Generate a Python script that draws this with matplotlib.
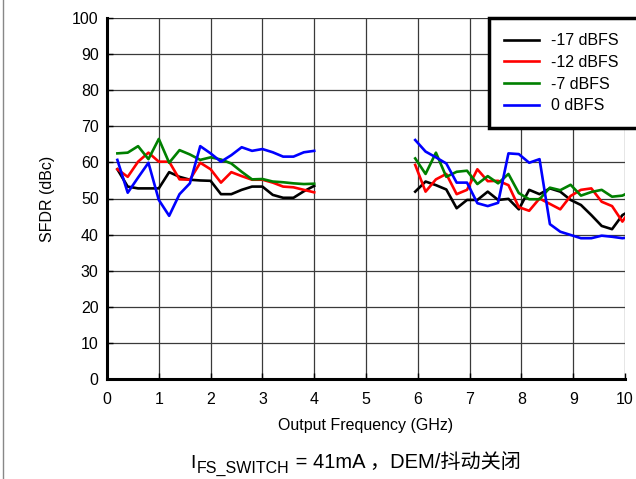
import numpy as np
import matplotlib.pyplot as plt
from matplotlib.lines import Line2D

plt.rcParams['font.family'] = ['Liberation Sans', 'Noto Sans CJK SC', 'DejaVu Sans']

# low band: 0.2 .. 4.0 GHz, high band: 5.95 .. 10.15 GHz
freq_lo = np.round(np.arange(0.2, 4.01, 0.2), 2)
freq_hi = np.round(5.95 + 0.2 * np.arange(22), 2)

m17_lo = [58.1, 53.3, 52.8, 52.8, 52.8, 57.3, 56.0, 55.2, 55.0, 54.9,
          51.2, 51.2, 52.4, 53.3, 53.3, 51.0, 50.2, 50.2, 52.0, 53.5]
m12_lo = [58.1, 56.0, 60.2, 62.7, 60.2, 60.2, 55.3, 55.2, 59.9, 58.1,
          54.4, 57.3, 56.2, 55.2, 55.2, 54.4, 53.3, 53.1, 52.4, 51.7]
m7_lo = [62.5, 62.7, 64.5, 60.9, 66.5, 59.9, 63.4, 62.2, 60.7, 61.4,
         60.8, 59.7, 57.4, 55.3, 55.4, 54.7, 54.5, 54.2, 54.0, 54.1]
m0_lo = [60.7, 51.6, 55.8, 59.9, 49.6, 45.2, 51.2, 54.2, 64.5, 62.5,
         60.2, 62.0, 64.2, 63.2, 63.7, 62.8, 61.6, 61.6, 62.8, 63.2]

m17_hi = [51.9, 54.7, 53.7, 52.5, 47.3, 49.6, 49.6, 51.9, 49.6, 49.9, 47.0,
          52.4, 51.2, 52.8, 51.9, 49.6, 48.2, 45.4, 42.4, 41.5, 45.4, 47.0]
m12_hi = [59.3, 51.9, 55.3, 56.8, 51.2, 52.4, 58.1, 54.8, 54.9, 53.7, 47.6,
          46.6, 50.0, 48.5, 47.0, 50.7, 52.4, 52.8, 49.1, 47.9, 43.6, 47.9]
m7_hi = [61.1, 56.8, 62.7, 56.0, 57.4, 57.7, 54.0, 56.2, 54.2, 56.8, 51.5,
         49.8, 49.8, 53.0, 52.3, 53.8, 50.8, 51.8, 52.4, 50.5, 50.8, 52.2]
m0_hi = [66.2, 63.0, 61.4, 59.7, 54.4, 54.4, 48.7, 47.9, 48.8, 62.5, 62.3,
         59.9, 60.9, 42.9, 40.8, 39.9, 39.0, 39.0, 39.7, 39.4, 39.0, 39.4]

labels = ['-17 dBFS', '-12 dBFS', '-7 dBFS', '0 dBFS']
colors = ['black', '#ff0000', '#008000', '#0000ff']
series_lo = [m17_lo, m12_lo, m7_lo, m0_lo]
series_hi = [m17_hi, m12_hi, m7_hi, m0_hi]

W, H = 636, 479
fig = plt.figure(figsize=(W / 100, H / 100), dpi=100)
ax = fig.add_axes([107 / W, 100 / H, 518 / W, 361 / H])

for lo, hi, c, lab in zip(series_lo, series_hi, colors, labels):
    ax.plot(freq_lo, lo, color=c, lw=1.9, label=lab, zorder=3)
    ax.plot(freq_hi, hi, color=c, lw=1.9, zorder=3)

ax.set_xlim(0, 10)
ax.set_ylim(0, 100)
ax.set_xticks(range(0, 11))
ax.set_yticks(range(0, 101, 10))
ax.grid(True, color='#3a3a3a', lw=0.9)
ax.tick_params(direction='in', length=4, labelsize=11.5, width=1)
ax.tick_params(axis='x', pad=9)
ax.tick_params(axis='y', pad=6)
for s in ['top', 'right']:
    ax.spines[s].set_visible(False)
for s in ['left', 'bottom']:
    ax.spines[s].set_linewidth(2.2)

ax.set_xlabel('Output Frequency (GHz)', fontsize=11.5, labelpad=8)
ax.set_ylabel('SFDR (dBc)', fontsize=11.5, labelpad=12)

leg = ax.legend(loc='upper left', bbox_to_anchor=(0.737, 0.0, 0.32, 1.0),
                mode='expand', borderaxespad=0,
                fontsize=11.5, fancybox=False, framealpha=1, edgecolor='black',
                handlelength=2.2, handletextpad=0.75, labelspacing=0.42,
                borderpad=0.95)
leg.get_frame().set_linewidth(2.5)
leg.set_zorder(5)

# caption: I with subscript, then the rest, placed side by side
r = fig.canvas.get_renderer()
yb = 1 - 468 / H
t1 = fig.text(190 / W, yb, 'I', ha='left', va='baseline', fontsize=14)
x1 = t1.get_window_extent(r).x1
t2 = fig.text((x1 + 1) / W, yb - 5 / H, 'FS_SWITCH', ha='left', va='baseline',
              fontsize=11.5)
x2 = t2.get_window_extent(r).x1
fig.text((x2 + 1) / W, yb, ' = 41mA ，DEM/抖动关闭', ha='left', va='baseline',
         fontsize=14.5)

fig.add_artist(Line2D([3.5 / W, 3.5 / W], [0, 1], color='#888888', lw=1,
                      transform=fig.transFigure))

fig.savefig('out.png', dpi=100)
